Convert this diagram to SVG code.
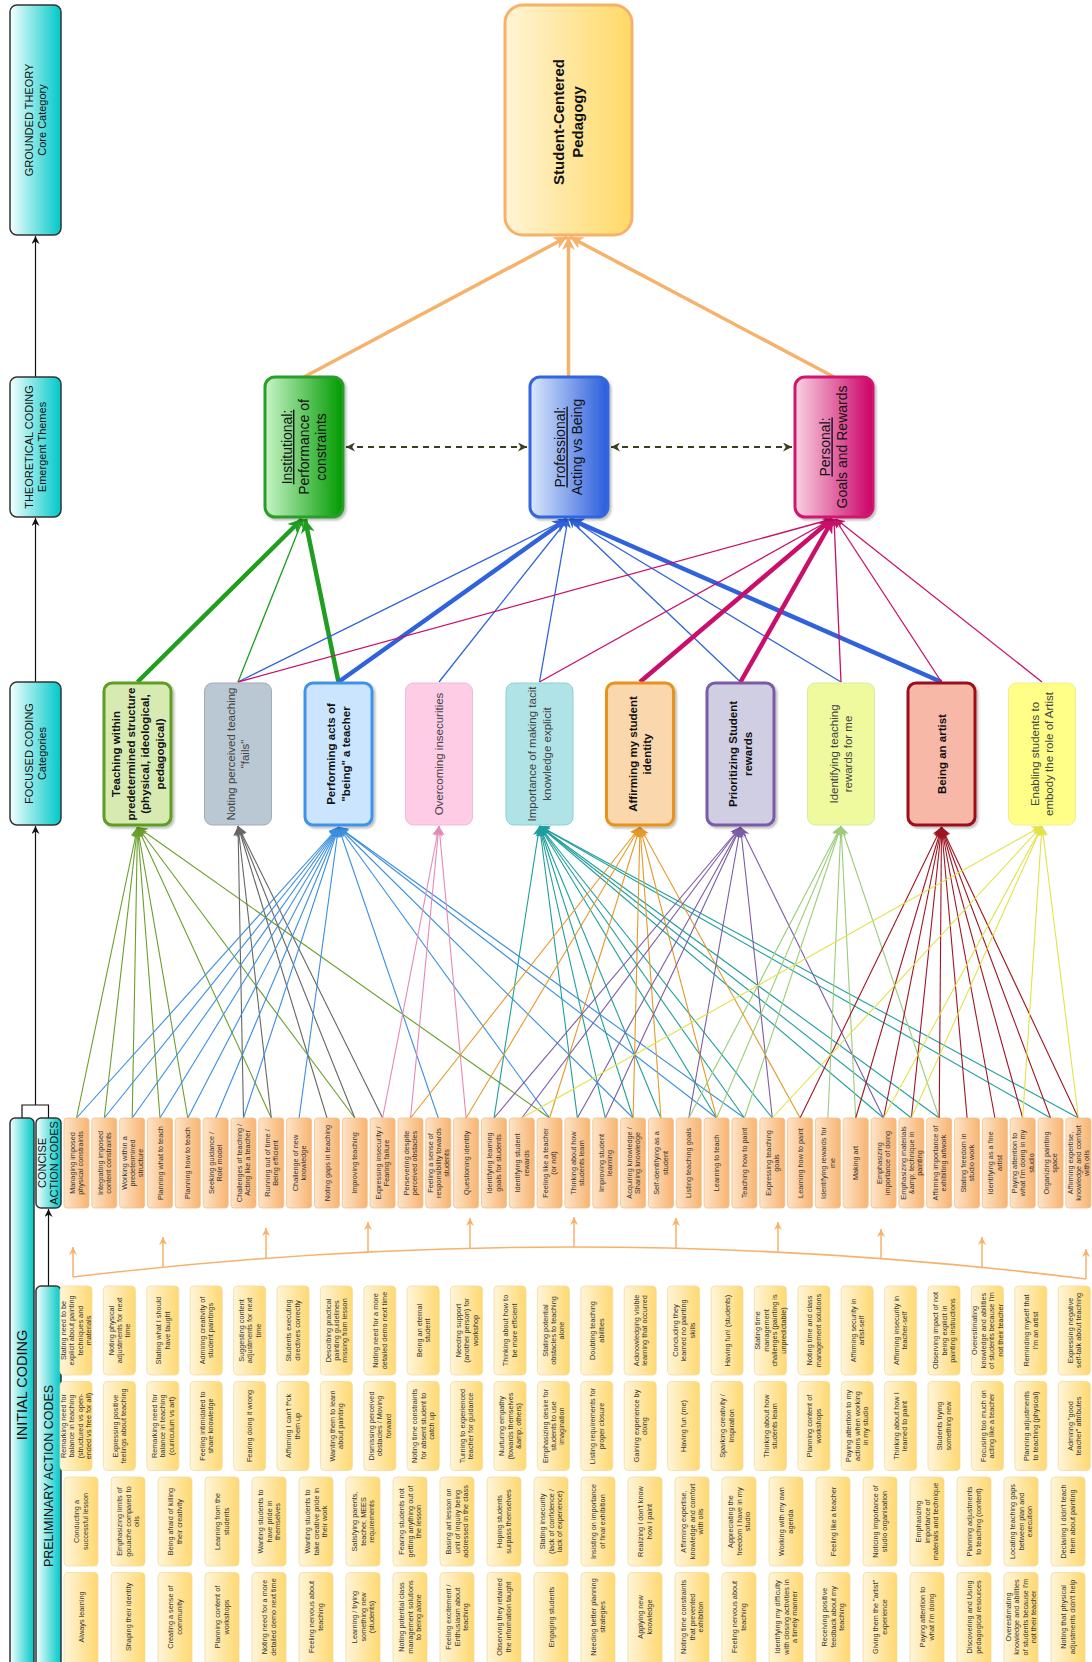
<svg xmlns="http://www.w3.org/2000/svg" width="1092" height="1662" viewBox="0 0 1092 1662">
<defs>
<linearGradient id="gCy" x1="0" y1="0" x2="1" y2="0"><stop offset="0" stop-color="#f4ffff"/><stop offset="1" stop-color="#00c8c8"/></linearGradient>
<linearGradient id="gSC" x1="0" y1="0" x2="1" y2="0"><stop offset="0" stop-color="#fff4d6"/><stop offset="1" stop-color="#ffd966"/></linearGradient>
<linearGradient id="gIn" x1="0" y1="0" x2="1" y2="0"><stop offset="0" stop-color="#c8f5c8"/><stop offset="1" stop-color="#009a00"/></linearGradient>
<linearGradient id="gPr" x1="0" y1="0" x2="1" y2="0"><stop offset="0" stop-color="#dce9fc"/><stop offset="1" stop-color="#2a5cdc"/></linearGradient>
<linearGradient id="gPe" x1="0" y1="0" x2="1" y2="0"><stop offset="0" stop-color="#f9d2e3"/><stop offset="1" stop-color="#cc0066"/></linearGradient>
<linearGradient id="gCon" x1="0" y1="0" x2="1" y2="0"><stop offset="0" stop-color="#fde4c8"/><stop offset="1" stop-color="#f8b471"/></linearGradient>
<linearGradient id="gPre" x1="0" y1="0" x2="1" y2="0"><stop offset="0" stop-color="#fff5da"/><stop offset="1" stop-color="#ffd870"/></linearGradient>
<filter id="sh" x="-10%" y="-10%" width="130%" height="130%"><feDropShadow dx="2" dy="2" stdDeviation="1.2" flood-color="#000" flood-opacity="0.25"/></filter>
<marker id="a0" viewBox="0 0 10 10" refX="10" refY="5" markerWidth="10" markerHeight="10" markerUnits="userSpaceOnUse" orient="auto"><path d="M0,0L10,5L0,10L3,5z" fill="#6a9f2c"/></marker>
<marker id="a1" viewBox="0 0 10 10" refX="10" refY="5" markerWidth="10" markerHeight="10" markerUnits="userSpaceOnUse" orient="auto"><path d="M0,0L10,5L0,10L3,5z" fill="#666666"/></marker>
<marker id="a2" viewBox="0 0 10 10" refX="10" refY="5" markerWidth="10" markerHeight="10" markerUnits="userSpaceOnUse" orient="auto"><path d="M0,0L10,5L0,10L3,5z" fill="#3b8ee0"/></marker>
<marker id="a3" viewBox="0 0 10 10" refX="10" refY="5" markerWidth="10" markerHeight="10" markerUnits="userSpaceOnUse" orient="auto"><path d="M0,0L10,5L0,10L3,5z" fill="#e589b8"/></marker>
<marker id="a4" viewBox="0 0 10 10" refX="10" refY="5" markerWidth="10" markerHeight="10" markerUnits="userSpaceOnUse" orient="auto"><path d="M0,0L10,5L0,10L3,5z" fill="#1f9e9e"/></marker>
<marker id="a5" viewBox="0 0 10 10" refX="10" refY="5" markerWidth="10" markerHeight="10" markerUnits="userSpaceOnUse" orient="auto"><path d="M0,0L10,5L0,10L3,5z" fill="#e39a2b"/></marker>
<marker id="a6" viewBox="0 0 10 10" refX="10" refY="5" markerWidth="10" markerHeight="10" markerUnits="userSpaceOnUse" orient="auto"><path d="M0,0L10,5L0,10L3,5z" fill="#7b5ba6"/></marker>
<marker id="a7" viewBox="0 0 10 10" refX="10" refY="5" markerWidth="10" markerHeight="10" markerUnits="userSpaceOnUse" orient="auto"><path d="M0,0L10,5L0,10L3,5z" fill="#9ccc7a"/></marker>
<marker id="a8" viewBox="0 0 10 10" refX="10" refY="5" markerWidth="10" markerHeight="10" markerUnits="userSpaceOnUse" orient="auto"><path d="M0,0L10,5L0,10L3,5z" fill="#9e1624"/></marker>
<marker id="a9" viewBox="0 0 10 10" refX="10" refY="5" markerWidth="10" markerHeight="10" markerUnits="userSpaceOnUse" orient="auto"><path d="M0,0L10,5L0,10L3,5z" fill="#e2e24a"/></marker>
<marker id="aG" viewBox="0 0 10 10" refX="10" refY="5" markerWidth="14" markerHeight="14" markerUnits="userSpaceOnUse" orient="auto"><path d="M0,0L10,5L0,10L3,5z" fill="#1f9e1f"/></marker>
<marker id="ag" viewBox="0 0 10 10" refX="10" refY="5" markerWidth="9" markerHeight="9" markerUnits="userSpaceOnUse" orient="auto"><path d="M0,0L10,5L0,10L3,5z" fill="#1f9e1f"/></marker>
<marker id="aB" viewBox="0 0 10 10" refX="10" refY="5" markerWidth="14" markerHeight="14" markerUnits="userSpaceOnUse" orient="auto"><path d="M0,0L10,5L0,10L3,5z" fill="#2f62dc"/></marker>
<marker id="ab" viewBox="0 0 10 10" refX="10" refY="5" markerWidth="9" markerHeight="9" markerUnits="userSpaceOnUse" orient="auto"><path d="M0,0L10,5L0,10L3,5z" fill="#2f62dc"/></marker>
<marker id="aP" viewBox="0 0 10 10" refX="10" refY="5" markerWidth="14" markerHeight="14" markerUnits="userSpaceOnUse" orient="auto"><path d="M0,0L10,5L0,10L3,5z" fill="#c8106a"/></marker>
<marker id="ap" viewBox="0 0 10 10" refX="10" refY="5" markerWidth="9" markerHeight="9" markerUnits="userSpaceOnUse" orient="auto"><path d="M0,0L10,5L0,10L3,5z" fill="#c8106a"/></marker>
<marker id="aO" viewBox="0 0 10 10" refX="10" refY="5" markerWidth="13" markerHeight="13" markerUnits="userSpaceOnUse" orient="auto"><path d="M0,0L10,5L0,10L3,5z" fill="#f6b26b"/></marker>
<marker id="ao" viewBox="0 0 10 10" refX="10" refY="5" markerWidth="8" markerHeight="8" markerUnits="userSpaceOnUse" orient="auto"><path d="M0,0L10,5L0,10L3,5z" fill="#f6b26b"/></marker>
<marker id="ak" viewBox="0 0 10 10" refX="10" refY="5" markerWidth="8" markerHeight="8" markerUnits="userSpaceOnUse" orient="auto"><path d="M0,0L10,5L0,10L3,5z" fill="#111"/></marker>
<marker id="ad" viewBox="0 0 10 10" refX="10" refY="5" markerWidth="9" markerHeight="9" markerUnits="userSpaceOnUse" orient="auto-start-reverse"><path d="M0,0L10,5L0,10L3,5z" fill="#3d3d1d"/></marker>
</defs>
<style>
text{font-family:"Liberation Sans",Arial,sans-serif}
.lbl{font-size:11px;fill:#111;text-anchor:middle}
.ct,.pt{font-size:7.3px;fill:#333;text-anchor:middle}
.cc{fill:url(#gCon);stroke:#f0c08e;stroke-width:0.8}
.pc{fill:url(#gPre);stroke:#f1dc9e;stroke-width:0.8}
.fb{font-size:11.5px;font-weight:bold;fill:#111;text-anchor:middle}
.fn{font-size:11.5px;fill:#444;text-anchor:middle}
.th{font-size:14px;fill:#111;text-anchor:middle}
.lc{stroke:#111;stroke-width:1.2;fill:none}
.cn line{stroke-width:1.1}
.k0{stroke:#6a9f2c;marker-end:url(#a0)}
.k1{stroke:#666666;marker-end:url(#a1)}
.k2{stroke:#3b8ee0;marker-end:url(#a2)}
.k3{stroke:#e589b8;marker-end:url(#a3)}
.k4{stroke:#1f9e9e;marker-end:url(#a4)}
.k5{stroke:#e39a2b;marker-end:url(#a5)}
.k6{stroke:#7b5ba6;marker-end:url(#a6)}
.k7{stroke:#9ccc7a;marker-end:url(#a7)}
.k8{stroke:#9e1624;marker-end:url(#a8)}
.k9{stroke:#e2e24a;marker-end:url(#a9)}
.tG{stroke:#1f9e1f;stroke-width:4.5;marker-end:url(#aG)}
.tg{stroke:#1f9e1f;stroke-width:1.3;marker-end:url(#ag)}
.tB{stroke:#2f62dc;stroke-width:4.5;marker-end:url(#aB)}
.tb{stroke:#2f62dc;stroke-width:1.3;marker-end:url(#ab)}
.tP{stroke:#c8106a;stroke-width:4.5;marker-end:url(#aP)}
.tp{stroke:#c8106a;stroke-width:1.3;marker-end:url(#ap)}
.to{stroke:#f6b26b;stroke-width:3.5;marker-end:url(#aO)}
.ta{stroke:#f6b26b;stroke-width:1.5;marker-end:url(#ao)}
.dsh{stroke:#3d3d1d;stroke-width:1.8;stroke-dasharray:6 5;marker-start:url(#ad);marker-end:url(#ad)}
</style>
<rect width="1092" height="1662" fill="#ffffff"/>

<g id="connectors">
<g id="left-flow">
<line class="lc" x1="35.5" y1="377" x2="35.5" y2="236" marker-end="url(#ak)"/>
<line class="lc" x1="35.5" y1="682" x2="35.5" y2="518" marker-end="url(#ak)"/>
<line class="lc" x1="35.5" y1="1105" x2="35.5" y2="826" marker-end="url(#ak)"/>
<path class="lc" d="M22,1118V1105H48.5V1118"/>
<line class="lc" x1="48.5" y1="1286" x2="48.5" y2="1209" marker-end="url(#ak)"/>
</g>
<g id="sc-links">
<line class="to" x1="304" y1="377" x2="567" y2="237"/>
<line class="to" x1="568.5" y1="377" x2="568.5" y2="237"/>
<line class="to" x1="834" y1="377" x2="570" y2="237"/>
</g>
<g id="theme-links">
<line class="dsh" x1="346" y1="447" x2="527" y2="447"/>
<line class="dsh" x1="611" y1="447" x2="792" y2="447"/>
</g>
<g id="cat-theme">
<line class="tG" x1="137.5" y1="682" x2="302" y2="519"/>
<line class="tg" x1="238" y1="682" x2="303" y2="519"/>
<line class="tG" x1="338.5" y1="682" x2="305" y2="519"/>
<line class="tb" x1="238" y1="682" x2="567" y2="519"/>
<line class="tB" x1="338.5" y1="682" x2="567" y2="519"/>
<line class="tb" x1="439" y1="682" x2="568" y2="519"/>
<line class="tb" x1="539.5" y1="682" x2="568" y2="519"/>
<line class="tb" x1="740.5" y1="682" x2="569" y2="519"/>
<line class="tb" x1="841" y1="682" x2="570" y2="519"/>
<line class="tB" x1="941.5" y1="682" x2="570" y2="519"/>
<line class="tp" x1="238" y1="682" x2="832" y2="519"/>
<line class="tp" x1="539.5" y1="682" x2="832" y2="519"/>
<line class="tP" x1="640" y1="682" x2="832" y2="519"/>
<line class="tP" x1="740.5" y1="682" x2="833" y2="519"/>
<line class="tp" x1="841" y1="682" x2="834" y2="519"/>
<line class="tp" x1="941.5" y1="682" x2="835" y2="519"/>
<line class="tp" x1="1042" y1="682" x2="836" y2="519"/>
</g>
<g id="code-cat" class="cn">
<line class="k0" x1="76.5" y1="1118" x2="137.5" y2="827"/>
<line class="k0" x1="104.3" y1="1118" x2="137.5" y2="827"/>
<line class="k0" x1="132.2" y1="1118" x2="137.5" y2="827"/>
<line class="k0" x1="160" y1="1118" x2="137.5" y2="827"/>
<line class="k0" x1="187.8" y1="1118" x2="137.5" y2="827"/>
<line class="k0" x1="271.3" y1="1118" x2="137.5" y2="827"/>
<line class="k0" x1="354.8" y1="1118" x2="137.5" y2="827"/>
<line class="k0" x1="549.6" y1="1118" x2="137.5" y2="827"/>
<line class="k1" x1="243.5" y1="1118" x2="238" y2="826"/>
<line class="k1" x1="271.3" y1="1118" x2="238" y2="826"/>
<line class="k1" x1="327" y1="1118" x2="238" y2="826"/>
<line class="k1" x1="354.8" y1="1118" x2="238" y2="826"/>
<line class="k1" x1="382.6" y1="1118" x2="238" y2="826"/>
<line class="k2" x1="76.5" y1="1118" x2="338.5" y2="827"/>
<line class="k2" x1="104.3" y1="1118" x2="338.5" y2="827"/>
<line class="k2" x1="132.2" y1="1118" x2="338.5" y2="827"/>
<line class="k2" x1="160" y1="1118" x2="338.5" y2="827"/>
<line class="k2" x1="187.8" y1="1118" x2="338.5" y2="827"/>
<line class="k2" x1="215.7" y1="1118" x2="338.5" y2="827"/>
<line class="k2" x1="243.5" y1="1118" x2="338.5" y2="827"/>
<line class="k2" x1="299.1" y1="1118" x2="338.5" y2="827"/>
<line class="k2" x1="438.3" y1="1118" x2="338.5" y2="827"/>
<line class="k2" x1="549.6" y1="1118" x2="338.5" y2="827"/>
<line class="k2" x1="633.1" y1="1118" x2="338.5" y2="827"/>
<line class="k2" x1="716.6" y1="1118" x2="338.5" y2="827"/>
<line class="k2" x1="744.4" y1="1118" x2="338.5" y2="827"/>
<line class="k3" x1="382.6" y1="1118" x2="439" y2="826"/>
<line class="k3" x1="410.5" y1="1118" x2="439" y2="826"/>
<line class="k3" x1="466.1" y1="1118" x2="439" y2="826"/>
<line class="k4" x1="494" y1="1118" x2="539.5" y2="826"/>
<line class="k4" x1="577.4" y1="1118" x2="539.5" y2="826"/>
<line class="k4" x1="605.3" y1="1118" x2="539.5" y2="826"/>
<line class="k4" x1="633.1" y1="1118" x2="539.5" y2="826"/>
<line class="k4" x1="660.9" y1="1118" x2="539.5" y2="826"/>
<line class="k4" x1="716.6" y1="1118" x2="539.5" y2="826"/>
<line class="k4" x1="744.4" y1="1118" x2="539.5" y2="826"/>
<line class="k4" x1="772.3" y1="1118" x2="539.5" y2="826"/>
<line class="k4" x1="883.6" y1="1118" x2="539.5" y2="826"/>
<line class="k4" x1="911.4" y1="1118" x2="539.5" y2="826"/>
<line class="k4" x1="939.2" y1="1118" x2="539.5" y2="826"/>
<line class="k4" x1="1050.6" y1="1118" x2="539.5" y2="826"/>
<line class="k4" x1="1078.4" y1="1118" x2="539.5" y2="826"/>
<line class="k5" x1="410.5" y1="1118" x2="640" y2="827"/>
<line class="k5" x1="466.1" y1="1118" x2="640" y2="827"/>
<line class="k5" x1="549.6" y1="1118" x2="640" y2="827"/>
<line class="k5" x1="633.1" y1="1118" x2="640" y2="827"/>
<line class="k5" x1="660.9" y1="1118" x2="640" y2="827"/>
<line class="k5" x1="716.6" y1="1118" x2="640" y2="827"/>
<line class="k5" x1="800.1" y1="1118" x2="640" y2="827"/>
<line class="k6" x1="494" y1="1118" x2="740.5" y2="827"/>
<line class="k6" x1="521.8" y1="1118" x2="740.5" y2="827"/>
<line class="k6" x1="577.4" y1="1118" x2="740.5" y2="827"/>
<line class="k6" x1="605.3" y1="1118" x2="740.5" y2="827"/>
<line class="k6" x1="688.8" y1="1118" x2="740.5" y2="827"/>
<line class="k6" x1="772.3" y1="1118" x2="740.5" y2="827"/>
<line class="k6" x1="883.6" y1="1118" x2="740.5" y2="827"/>
<line class="k7" x1="688.8" y1="1118" x2="841" y2="826"/>
<line class="k7" x1="716.6" y1="1118" x2="841" y2="826"/>
<line class="k7" x1="744.4" y1="1118" x2="841" y2="826"/>
<line class="k7" x1="827.9" y1="1118" x2="841" y2="826"/>
<line class="k7" x1="855.7" y1="1118" x2="841" y2="826"/>
<line class="k7" x1="939.2" y1="1118" x2="841" y2="826"/>
<line class="k8" x1="800.1" y1="1118" x2="941.5" y2="827"/>
<line class="k8" x1="855.7" y1="1118" x2="941.5" y2="827"/>
<line class="k8" x1="883.6" y1="1118" x2="941.5" y2="827"/>
<line class="k8" x1="911.4" y1="1118" x2="941.5" y2="827"/>
<line class="k8" x1="939.2" y1="1118" x2="941.5" y2="827"/>
<line class="k8" x1="967.1" y1="1118" x2="941.5" y2="827"/>
<line class="k8" x1="994.9" y1="1118" x2="941.5" y2="827"/>
<line class="k8" x1="1022.7" y1="1118" x2="941.5" y2="827"/>
<line class="k8" x1="1050.6" y1="1118" x2="941.5" y2="827"/>
<line class="k8" x1="1078.4" y1="1118" x2="941.5" y2="827"/>
<line class="k9" x1="521.8" y1="1118" x2="1042" y2="826"/>
<line class="k9" x1="772.3" y1="1118" x2="1042" y2="826"/>
<line class="k9" x1="883.6" y1="1118" x2="1042" y2="826"/>
<line class="k9" x1="911.4" y1="1118" x2="1042" y2="826"/>
<line class="k9" x1="1022.7" y1="1118" x2="1042" y2="826"/>
<line class="k9" x1="1078.4" y1="1118" x2="1042" y2="826"/>
</g>
<g id="prelim-to-concise">
<path d="M73,1277Q580,1216 1086,1279" fill="none" stroke="#f6b26b" stroke-width="1.5"/>
<line class="ta" x1="73" y1="1277" x2="73" y2="1247"/>
<line class="ta" x1="163" y1="1267" x2="163" y2="1237"/>
<line class="ta" x1="266" y1="1258" x2="266" y2="1228"/>
<line class="ta" x1="368" y1="1252" x2="368" y2="1222"/>
<line class="ta" x1="470" y1="1248" x2="470" y2="1218"/>
<line class="ta" x1="574" y1="1247" x2="574" y2="1217"/>
<line class="ta" x1="676" y1="1248" x2="676" y2="1218"/>
<line class="ta" x1="778" y1="1252" x2="778" y2="1222"/>
<line class="ta" x1="881" y1="1259" x2="881" y2="1229"/>
<line class="ta" x1="982" y1="1267" x2="982" y2="1237"/>
<line class="ta" x1="1086" y1="1279" x2="1086" y2="1249"/>
</g>
</g>

<g id="grounded-theory"><rect x="10" y="5" width="51" height="230" rx="7" fill="url(#gCy)" stroke="#333" stroke-width="1.5"/><text class="lbl" transform="translate(35.5,120) rotate(-90)"><tspan x="0" dy="-2.7">GROUNDED THEORY</tspan><tspan x="0" dy="13">Core Category</tspan></text></g>
<g id="theoretical-coding"><rect x="10" y="377" width="51" height="140" rx="7" fill="url(#gCy)" stroke="#333" stroke-width="1.5"/><text class="lbl" transform="translate(35.5,447) rotate(-90)"><tspan x="0" dy="-2.7">THEORETICAL CODING</tspan><tspan x="0" dy="13">Emergent Themes</tspan></text></g>
<g id="focused-coding"><rect x="10" y="682" width="51" height="143" rx="7" fill="url(#gCy)" stroke="#333" stroke-width="1.5"/><text class="lbl" transform="translate(35.5,753.5) rotate(-90)"><tspan x="0" dy="-2.7">FOCUSED CODING</tspan><tspan x="0" dy="13">Categories</tspan></text></g>
<g id="initial-coding"><rect x="10" y="1118" width="24" height="560" rx="5" fill="url(#gCy)" stroke="#333" stroke-width="1.5"/><text transform="translate(22,1385) rotate(-90)" style="font-size:14.5px;fill:#111;text-anchor:middle" dy="5">INITIAL CODING</text></g>
<g id="concise-label"><rect x="36" y="1118" width="25" height="90" rx="5" fill="url(#gCy)" stroke="#333" stroke-width="1.5"/><text class="lbl" transform="translate(48.5,1163) rotate(-90)"><tspan x="0" dy="-2.4">CONCISE</tspan><tspan x="0" dy="11.5">ACTION CODES</tspan></text></g>
<g id="preliminary-label"><rect x="36" y="1286" width="25" height="392" rx="5" fill="url(#gCy)" stroke="#333" stroke-width="1.5"/><text transform="translate(48.5,1476) rotate(-90)" style="font-size:12.5px;fill:#111;text-anchor:middle" dy="4.4">PRELIMINARY ACTION CODES</text></g>

<g id="student-centered"><rect x="505" y="5" width="127" height="230" rx="18" fill="url(#gSC)" stroke="#f6b26b" stroke-width="3"/><text transform="translate(568.5,122) rotate(-90)" style="font-size:15px;font-weight:bold;fill:#111;text-anchor:middle"><tspan x="0" dy="-4.3">Student-Centered</tspan><tspan x="0" dy="19">Pedagogy</tspan></text></g>

<g id="institutional"><rect x="265" y="377" width="78" height="140" rx="10" fill="url(#gIn)" stroke="#2a9e2a" stroke-width="3" filter="url(#sh)"/><text class="th" transform="translate(304,447) rotate(-90)"><tspan x="0" dy="-12" text-decoration="underline">Institutional:</tspan><tspan x="0" dy="17">Performance of</tspan><tspan x="0" dy="17">constraints</tspan></text></g>
<g id="professional"><rect x="530" y="377" width="78" height="140" rx="10" fill="url(#gPr)" stroke="#3366dd" stroke-width="3" filter="url(#sh)"/><text class="th" transform="translate(569,447) rotate(-90)"><tspan x="0" dy="-3.6" text-decoration="underline">Professional:</tspan><tspan x="0" dy="17">Acting vs Being</tspan></text></g>
<g id="personal"><rect x="795" y="377" width="78" height="140" rx="10" fill="url(#gPe)" stroke="#d0186e" stroke-width="3" filter="url(#sh)"/><text class="th" transform="translate(834,447) rotate(-90)"><tspan x="0" dy="-3.6" text-decoration="underline">Personal:</tspan><tspan x="0" dy="17">Goals and Rewards</tspan></text></g>

<g id="cat0"><rect x="104" y="683" width="67" height="142" rx="8" fill="#d6eab2" stroke="#5e9e22" stroke-width="3" filter="url(#sh)"/><text class="fb" transform="translate(137.5,754) rotate(-90)"><tspan x="0" dy="-17.5">Teaching within</tspan><tspan x="0" dy="14.5">predetermined structure</tspan><tspan x="0" dy="14.5">(physical, ideological,</tspan><tspan x="0" dy="14.5">pedagogical)</tspan></text></g>
<g id="cat1"><rect x="204.5" y="683" width="67" height="142" rx="8" fill="#bac8d3" stroke="#a3abb5" stroke-width="1"/><text class="fn" transform="translate(238,754) rotate(-90)"><tspan x="0" dy="-3.2">Noting perceived teaching</tspan><tspan x="0" dy="14.5">"fails"</tspan></text></g>
<g id="cat2"><rect x="305" y="683" width="67" height="142" rx="8" fill="#cce5ff" stroke="#3f94e8" stroke-width="3" filter="url(#sh)"/><text class="fb" transform="translate(338.5,754) rotate(-90)"><tspan x="0" dy="-3.2">Performing acts of</tspan><tspan x="0" dy="14.5">"being" a teacher</tspan></text></g>
<g id="cat3"><rect x="405.5" y="683" width="67" height="142" rx="8" fill="#ffcce6" stroke="#f2b8d8" stroke-width="1"/><text class="fn" transform="translate(439,754) rotate(-90)"><tspan x="0" dy="4">Overcoming insecurities</tspan></text></g>
<g id="cat4"><rect x="506" y="683" width="67" height="142" rx="8" fill="#b0e3e6" stroke="#8ed0d4" stroke-width="1"/><text class="fn" transform="translate(539.5,754) rotate(-90)"><tspan x="0" dy="-3.2">Importance of making tacit</tspan><tspan x="0" dy="14.5">knowledge explicit</tspan></text></g>
<g id="cat5"><rect x="606.5" y="683" width="67" height="142" rx="8" fill="#fad7ac" stroke="#e8921a" stroke-width="3" filter="url(#sh)"/><text class="fb" transform="translate(640,754) rotate(-90)"><tspan x="0" dy="-3.2">Affirming my student</tspan><tspan x="0" dy="14.5">identity</tspan></text></g>
<g id="cat6"><rect x="707" y="683" width="67" height="142" rx="8" fill="#d0cee2" stroke="#7a5ba6" stroke-width="3" filter="url(#sh)"/><text class="fb" transform="translate(740.5,754) rotate(-90)"><tspan x="0" dy="-3.2">Prioritizing Student</tspan><tspan x="0" dy="14.5">rewards</tspan></text></g>
<g id="cat7"><rect x="807.5" y="683" width="67" height="142" rx="8" fill="#effa9e" stroke="#d4eca0" stroke-width="1"/><text class="fn" transform="translate(841,754) rotate(-90)"><tspan x="0" dy="-3.2">Identifying teaching</tspan><tspan x="0" dy="14.5">rewards for me</tspan></text></g>
<g id="cat8"><rect x="908" y="683" width="67" height="142" rx="8" fill="#f8b8a8" stroke="#9e0f1a" stroke-width="3" filter="url(#sh)"/><text class="fb" transform="translate(941.5,754) rotate(-90)"><tspan x="0" dy="4">Being an artist</tspan></text></g>
<g id="cat9"><rect x="1008.5" y="683" width="67" height="142" rx="8" fill="#ffff88" stroke="#eeee9a" stroke-width="1"/><text class="fn" transform="translate(1042,754) rotate(-90)"><tspan x="0" dy="-3.2">Enabling students to</tspan><tspan x="0" dy="14.5">embody the role of Artist</tspan></text></g>

<g id="concise">
<g id="c0"><rect class="cc" x="64" y="1118" width="25" height="90" rx="3"/><text class="ct" transform="translate(76.5,1163) rotate(-90)"><tspan x="0" dy="-1.6">Managing imposed</tspan><tspan x="0" dy="8.3">physical constraints</tspan></text></g>
<g id="c1"><rect class="cc" x="91.8" y="1118" width="25" height="90" rx="3"/><text class="ct" transform="translate(104.3,1163) rotate(-90)"><tspan x="0" dy="-1.6">Integrating imposed</tspan><tspan x="0" dy="8.3">content constraints</tspan></text></g>
<g id="c2"><rect class="cc" x="119.7" y="1118" width="25" height="90" rx="3"/><text class="ct" transform="translate(132.2,1163) rotate(-90)"><tspan x="0" dy="-5.7">Working within a</tspan><tspan x="0" dy="8.3">predetermined</tspan><tspan x="0" dy="8.3">structure</tspan></text></g>
<g id="c3"><rect class="cc" x="147.5" y="1118" width="25" height="90" rx="3"/><text class="ct" transform="translate(160,1163) rotate(-90)"><tspan x="0" dy="2.6">Planning what to teach</tspan></text></g>
<g id="c4"><rect class="cc" x="175.3" y="1118" width="25" height="90" rx="3"/><text class="ct" transform="translate(187.8,1163) rotate(-90)"><tspan x="0" dy="2.6">Planning how to teach</tspan></text></g>
<g id="c5"><rect class="cc" x="203.2" y="1118" width="25" height="90" rx="3"/><text class="ct" transform="translate(215.7,1163) rotate(-90)"><tspan x="0" dy="-1.6">Seeking guidance /</tspan><tspan x="0" dy="8.3">Role model</tspan></text></g>
<g id="c6"><rect class="cc" x="231" y="1118" width="25" height="90" rx="3"/><text class="ct" transform="translate(243.5,1163) rotate(-90)"><tspan x="0" dy="-1.6">Challenges of teaching /</tspan><tspan x="0" dy="8.3">Acting like a teacher</tspan></text></g>
<g id="c7"><rect class="cc" x="258.8" y="1118" width="25" height="90" rx="3"/><text class="ct" transform="translate(271.3,1163) rotate(-90)"><tspan x="0" dy="-1.6">Running out of time /</tspan><tspan x="0" dy="8.3">Being efficient</tspan></text></g>
<g id="c8"><rect class="cc" x="286.6" y="1118" width="25" height="90" rx="3"/><text class="ct" transform="translate(299.1,1163) rotate(-90)"><tspan x="0" dy="-1.6">Challenge of new</tspan><tspan x="0" dy="8.3">knowledge</tspan></text></g>
<g id="c9"><rect class="cc" x="314.5" y="1118" width="25" height="90" rx="3"/><text class="ct" transform="translate(327,1163) rotate(-90)"><tspan x="0" dy="2.6">Noting gaps in teaching</tspan></text></g>
<g id="c10"><rect class="cc" x="342.3" y="1118" width="25" height="90" rx="3"/><text class="ct" transform="translate(354.8,1163) rotate(-90)"><tspan x="0" dy="2.6">Improving teaching</tspan></text></g>
<g id="c11"><rect class="cc" x="370.1" y="1118" width="25" height="90" rx="3"/><text class="ct" transform="translate(382.6,1163) rotate(-90)"><tspan x="0" dy="-1.6">Expressing insecurity /</tspan><tspan x="0" dy="8.3">Fearing failure</tspan></text></g>
<g id="c12"><rect class="cc" x="398" y="1118" width="25" height="90" rx="3"/><text class="ct" transform="translate(410.5,1163) rotate(-90)"><tspan x="0" dy="-1.6">Persevering despite</tspan><tspan x="0" dy="8.3">perceived obstacles</tspan></text></g>
<g id="c13"><rect class="cc" x="425.8" y="1118" width="25" height="90" rx="3"/><text class="ct" transform="translate(438.3,1163) rotate(-90)"><tspan x="0" dy="-5.7">Feeling a sense of</tspan><tspan x="0" dy="8.3">responsibility towards</tspan><tspan x="0" dy="8.3">students</tspan></text></g>
<g id="c14"><rect class="cc" x="453.6" y="1118" width="25" height="90" rx="3"/><text class="ct" transform="translate(466.1,1163) rotate(-90)"><tspan x="0" dy="2.6">Questioning identity</tspan></text></g>
<g id="c15"><rect class="cc" x="481.5" y="1118" width="25" height="90" rx="3"/><text class="ct" transform="translate(494,1163) rotate(-90)"><tspan x="0" dy="-1.6">Identifying learning</tspan><tspan x="0" dy="8.3">goals for students</tspan></text></g>
<g id="c16"><rect class="cc" x="509.3" y="1118" width="25" height="90" rx="3"/><text class="ct" transform="translate(521.8,1163) rotate(-90)"><tspan x="0" dy="-1.6">Identifying student</tspan><tspan x="0" dy="8.3">rewards</tspan></text></g>
<g id="c17"><rect class="cc" x="537.1" y="1118" width="25" height="90" rx="3"/><text class="ct" transform="translate(549.6,1163) rotate(-90)"><tspan x="0" dy="-1.6">Feeling like a teacher</tspan><tspan x="0" dy="8.3">(or not)</tspan></text></g>
<g id="c18"><rect class="cc" x="564.9" y="1118" width="25" height="90" rx="3"/><text class="ct" transform="translate(577.4,1163) rotate(-90)"><tspan x="0" dy="-1.6">Thinking about how</tspan><tspan x="0" dy="8.3">students learn</tspan></text></g>
<g id="c19"><rect class="cc" x="592.8" y="1118" width="25" height="90" rx="3"/><text class="ct" transform="translate(605.3,1163) rotate(-90)"><tspan x="0" dy="-1.6">Improving student</tspan><tspan x="0" dy="8.3">learning</tspan></text></g>
<g id="c20"><rect class="cc" x="620.6" y="1118" width="25" height="90" rx="3"/><text class="ct" transform="translate(633.1,1163) rotate(-90)"><tspan x="0" dy="-1.6">Acquiring knowledge /</tspan><tspan x="0" dy="8.3">Sharing knowledge</tspan></text></g>
<g id="c21"><rect class="cc" x="648.4" y="1118" width="25" height="90" rx="3"/><text class="ct" transform="translate(660.9,1163) rotate(-90)"><tspan x="0" dy="-1.6">Self-identifying as a</tspan><tspan x="0" dy="8.3">student</tspan></text></g>
<g id="c22"><rect class="cc" x="676.3" y="1118" width="25" height="90" rx="3"/><text class="ct" transform="translate(688.8,1163) rotate(-90)"><tspan x="0" dy="2.6">Listing teaching goals</tspan></text></g>
<g id="c23"><rect class="cc" x="704.1" y="1118" width="25" height="90" rx="3"/><text class="ct" transform="translate(716.6,1163) rotate(-90)"><tspan x="0" dy="2.6">Learning to teach</tspan></text></g>
<g id="c24"><rect class="cc" x="731.9" y="1118" width="25" height="90" rx="3"/><text class="ct" transform="translate(744.4,1163) rotate(-90)"><tspan x="0" dy="2.6">Teaching how to paint</tspan></text></g>
<g id="c25"><rect class="cc" x="759.8" y="1118" width="25" height="90" rx="3"/><text class="ct" transform="translate(772.3,1163) rotate(-90)"><tspan x="0" dy="-1.6">Expressing teaching</tspan><tspan x="0" dy="8.3">goals</tspan></text></g>
<g id="c26"><rect class="cc" x="787.6" y="1118" width="25" height="90" rx="3"/><text class="ct" transform="translate(800.1,1163) rotate(-90)"><tspan x="0" dy="2.6">Learning how to paint</tspan></text></g>
<g id="c27"><rect class="cc" x="815.4" y="1118" width="25" height="90" rx="3"/><text class="ct" transform="translate(827.9,1163) rotate(-90)"><tspan x="0" dy="-1.6">Identifying rewards for</tspan><tspan x="0" dy="8.3">me</tspan></text></g>
<g id="c28"><rect class="cc" x="843.2" y="1118" width="25" height="90" rx="3"/><text class="ct" transform="translate(855.7,1163) rotate(-90)"><tspan x="0" dy="2.6">Making art</tspan></text></g>
<g id="c29"><rect class="cc" x="871.1" y="1118" width="25" height="90" rx="3"/><text class="ct" transform="translate(883.6,1163) rotate(-90)"><tspan x="0" dy="-1.6">Emphasizing</tspan><tspan x="0" dy="8.3">importance of doing</tspan></text></g>
<g id="c30"><rect class="cc" x="898.9" y="1118" width="25" height="90" rx="3"/><text class="ct" transform="translate(911.4,1163) rotate(-90)"><tspan x="0" dy="-5.7">Emphasizing materials</tspan><tspan x="0" dy="8.3">&amp;amp; technique in</tspan><tspan x="0" dy="8.3">painting</tspan></text></g>
<g id="c31"><rect class="cc" x="926.7" y="1118" width="25" height="90" rx="3"/><text class="ct" transform="translate(939.2,1163) rotate(-90)"><tspan x="0" dy="-1.6">Affirming importance of</tspan><tspan x="0" dy="8.3">exhibiting artwork</tspan></text></g>
<g id="c32"><rect class="cc" x="954.6" y="1118" width="25" height="90" rx="3"/><text class="ct" transform="translate(967.1,1163) rotate(-90)"><tspan x="0" dy="-1.6">Stating freedom in</tspan><tspan x="0" dy="8.3">studio work</tspan></text></g>
<g id="c33"><rect class="cc" x="982.4" y="1118" width="25" height="90" rx="3"/><text class="ct" transform="translate(994.9,1163) rotate(-90)"><tspan x="0" dy="-1.6">Identifying as a fine</tspan><tspan x="0" dy="8.3">artist</tspan></text></g>
<g id="c34"><rect class="cc" x="1010.2" y="1118" width="25" height="90" rx="3"/><text class="ct" transform="translate(1022.7,1163) rotate(-90)"><tspan x="0" dy="-5.7">Paying attention to</tspan><tspan x="0" dy="8.3">what I'm doing in my</tspan><tspan x="0" dy="8.3">studio</tspan></text></g>
<g id="c35"><rect class="cc" x="1038.1" y="1118" width="25" height="90" rx="3"/><text class="ct" transform="translate(1050.6,1163) rotate(-90)"><tspan x="0" dy="-1.6">Organizing painting</tspan><tspan x="0" dy="8.3">space</tspan></text></g>
<g id="c36"><rect class="cc" x="1065.9" y="1118" width="25" height="90" rx="3"/><text class="ct" transform="translate(1078.4,1163) rotate(-90)"><tspan x="0" dy="-5.7">Affirming expertise,</tspan><tspan x="0" dy="8.3">knowledge and comfort</tspan><tspan x="0" dy="8.3">with oils</tspan></text></g>
</g>

<g id="preliminary">
<g id="p1-0"><rect class="pc" x="60" y="1286" width="32" height="89" rx="4"/><text class="pt" transform="translate(76,1330.5) rotate(-90)"><tspan x="0" dy="-10">Stating need to be</tspan><tspan x="0" dy="8.4">explicit about painting</tspan><tspan x="0" dy="8.4">techniques and</tspan><tspan x="0" dy="8.4">materials</tspan></text></g>
<g id="p1-1"><rect class="pc" x="103.4" y="1286" width="32" height="89" rx="4"/><text class="pt" transform="translate(119.4,1330.5) rotate(-90)"><tspan x="0" dy="-5.8">Noting physical</tspan><tspan x="0" dy="8.4">adjustments for next</tspan><tspan x="0" dy="8.4">time</tspan></text></g>
<g id="p1-2"><rect class="pc" x="146.8" y="1286" width="32" height="89" rx="4"/><text class="pt" transform="translate(162.8,1330.5) rotate(-90)"><tspan x="0" dy="-1.6">Stating what I should</tspan><tspan x="0" dy="8.4">have taught</tspan></text></g>
<g id="p1-3"><rect class="pc" x="190.2" y="1286" width="32" height="89" rx="4"/><text class="pt" transform="translate(206.2,1330.5) rotate(-90)"><tspan x="0" dy="-1.6">Admiring creativity of</tspan><tspan x="0" dy="8.4">student paintings</tspan></text></g>
<g id="p1-4"><rect class="pc" x="233.6" y="1286" width="32" height="89" rx="4"/><text class="pt" transform="translate(249.6,1330.5) rotate(-90)"><tspan x="0" dy="-5.8">Suggesting content</tspan><tspan x="0" dy="8.4">adjustments for next</tspan><tspan x="0" dy="8.4">time</tspan></text></g>
<g id="p1-5"><rect class="pc" x="277" y="1286" width="32" height="89" rx="4"/><text class="pt" transform="translate(293,1330.5) rotate(-90)"><tspan x="0" dy="-1.6">Students executing</tspan><tspan x="0" dy="8.4">directives correctly</tspan></text></g>
<g id="p1-6"><rect class="pc" x="320.4" y="1286" width="32" height="89" rx="4"/><text class="pt" transform="translate(336.4,1330.5) rotate(-90)"><tspan x="0" dy="-5.8">Describing practical</tspan><tspan x="0" dy="8.4">painting guidelines</tspan><tspan x="0" dy="8.4">missing from lesson</tspan></text></g>
<g id="p1-7"><rect class="pc" x="363.8" y="1286" width="32" height="89" rx="4"/><text class="pt" transform="translate(379.8,1330.5) rotate(-90)"><tspan x="0" dy="-1.6">Noting need for a more</tspan><tspan x="0" dy="8.4">detailed demo next time</tspan></text></g>
<g id="p1-8"><rect class="pc" x="407.2" y="1286" width="32" height="89" rx="4"/><text class="pt" transform="translate(423.2,1330.5) rotate(-90)"><tspan x="0" dy="-1.6">Being an eternal</tspan><tspan x="0" dy="8.4">student</tspan></text></g>
<g id="p1-9"><rect class="pc" x="450.6" y="1286" width="32" height="89" rx="4"/><text class="pt" transform="translate(466.6,1330.5) rotate(-90)"><tspan x="0" dy="-5.8">Needing support</tspan><tspan x="0" dy="8.4">(another person) for</tspan><tspan x="0" dy="8.4">workshop</tspan></text></g>
<g id="p1-10"><rect class="pc" x="494" y="1286" width="32" height="89" rx="4"/><text class="pt" transform="translate(510,1330.5) rotate(-90)"><tspan x="0" dy="-1.6">Thinking about how to</tspan><tspan x="0" dy="8.4">be more efficient</tspan></text></g>
<g id="p1-11"><rect class="pc" x="537.4" y="1286" width="32" height="89" rx="4"/><text class="pt" transform="translate(553.4,1330.5) rotate(-90)"><tspan x="0" dy="-5.8">Stating potential</tspan><tspan x="0" dy="8.4">obstacles to teaching</tspan><tspan x="0" dy="8.4">alone</tspan></text></g>
<g id="p1-12"><rect class="pc" x="580.8" y="1286" width="32" height="89" rx="4"/><text class="pt" transform="translate(596.8,1330.5) rotate(-90)"><tspan x="0" dy="-1.6">Doubting teaching</tspan><tspan x="0" dy="8.4">abilities</tspan></text></g>
<g id="p1-13"><rect class="pc" x="624.2" y="1286" width="32" height="89" rx="4"/><text class="pt" transform="translate(640.2,1330.5) rotate(-90)"><tspan x="0" dy="-1.6">Acknowledging visible</tspan><tspan x="0" dy="8.4">learning that occurred</tspan></text></g>
<g id="p1-14"><rect class="pc" x="667.6" y="1286" width="32" height="89" rx="4"/><text class="pt" transform="translate(683.6,1330.5) rotate(-90)"><tspan x="0" dy="-5.8">Concluding they</tspan><tspan x="0" dy="8.4">learned no painting</tspan><tspan x="0" dy="8.4">skills</tspan></text></g>
<g id="p1-15"><rect class="pc" x="711" y="1286" width="32" height="89" rx="4"/><text class="pt" transform="translate(727,1330.5) rotate(-90)"><tspan x="0" dy="2.6">Having fun! (students)</tspan></text></g>
<g id="p1-16"><rect class="pc" x="754.4" y="1286" width="32" height="89" rx="4"/><text class="pt" transform="translate(770.4,1330.5) rotate(-90)"><tspan x="0" dy="-10">Stating time</tspan><tspan x="0" dy="8.4">management</tspan><tspan x="0" dy="8.4">challenges (painting is</tspan><tspan x="0" dy="8.4">unpredictable)</tspan></text></g>
<g id="p1-17"><rect class="pc" x="797.8" y="1286" width="32" height="89" rx="4"/><text class="pt" transform="translate(813.8,1330.5) rotate(-90)"><tspan x="0" dy="-1.6">Noting time and class</tspan><tspan x="0" dy="8.4">management solutions</tspan></text></g>
<g id="p1-18"><rect class="pc" x="841.2" y="1286" width="32" height="89" rx="4"/><text class="pt" transform="translate(857.2,1330.5) rotate(-90)"><tspan x="0" dy="-1.6">Affirming security in</tspan><tspan x="0" dy="8.4">artist-self</tspan></text></g>
<g id="p1-19"><rect class="pc" x="884.6" y="1286" width="32" height="89" rx="4"/><text class="pt" transform="translate(900.6,1330.5) rotate(-90)"><tspan x="0" dy="-1.6">Affirming insecurity in</tspan><tspan x="0" dy="8.4">teacher-self</tspan></text></g>
<g id="p1-20"><rect class="pc" x="928" y="1286" width="32" height="89" rx="4"/><text class="pt" transform="translate(944,1330.5) rotate(-90)"><tspan x="0" dy="-5.8">Observing impact of not</tspan><tspan x="0" dy="8.4">being explicit in</tspan><tspan x="0" dy="8.4">painting instructions</tspan></text></g>
<g id="p1-21"><rect class="pc" x="971.4" y="1286" width="32" height="89" rx="4"/><text class="pt" transform="translate(987.4,1330.5) rotate(-90)"><tspan x="0" dy="-10">Overestimating</tspan><tspan x="0" dy="8.4">knowledge and abilities</tspan><tspan x="0" dy="8.4">of students because I'm</tspan><tspan x="0" dy="8.4">not their teacher</tspan></text></g>
<g id="p1-22"><rect class="pc" x="1014.8" y="1286" width="32" height="89" rx="4"/><text class="pt" transform="translate(1030.8,1330.5) rotate(-90)"><tspan x="0" dy="-1.6">Reminding myself that</tspan><tspan x="0" dy="8.4">I'm an artist</tspan></text></g>
<g id="p1-23"><rect class="pc" x="1058.2" y="1286" width="32" height="89" rx="4"/><text class="pt" transform="translate(1074.2,1330.5) rotate(-90)"><tspan x="0" dy="-1.6">Expressing negative</tspan><tspan x="0" dy="8.4">self-talk about teaching</tspan></text></g>

<g id="p2-0"><rect class="pc" x="60" y="1381.5" width="32" height="89" rx="4"/><text class="pt" transform="translate(76,1426) rotate(-90)"><tspan x="0" dy="-10">Remarking need for</tspan><tspan x="0" dy="8.4">balance in teaching</tspan><tspan x="0" dy="8.4">(structured vs open-</tspan><tspan x="0" dy="8.4">ended vs free for all)</tspan></text></g>
<g id="p2-1"><rect class="pc" x="103.4" y="1381.5" width="32" height="89" rx="4"/><text class="pt" transform="translate(119.4,1426) rotate(-90)"><tspan x="0" dy="-1.6">Expressing positive</tspan><tspan x="0" dy="8.4">feelings about teaching</tspan></text></g>
<g id="p2-2"><rect class="pc" x="146.8" y="1381.5" width="32" height="89" rx="4"/><text class="pt" transform="translate(162.8,1426) rotate(-90)"><tspan x="0" dy="-5.8">Remarking need for</tspan><tspan x="0" dy="8.4">balance in teaching</tspan><tspan x="0" dy="8.4">(curriculum vs art)</tspan></text></g>
<g id="p2-3"><rect class="pc" x="190.2" y="1381.5" width="32" height="89" rx="4"/><text class="pt" transform="translate(206.2,1426) rotate(-90)"><tspan x="0" dy="-1.6">Feeling intimidated to</tspan><tspan x="0" dy="8.4">share knowledge</tspan></text></g>
<g id="p2-4"><rect class="pc" x="233.6" y="1381.5" width="32" height="89" rx="4"/><text class="pt" transform="translate(249.6,1426) rotate(-90)"><tspan x="0" dy="2.6">Fearing doing it wrong</tspan></text></g>
<g id="p2-5"><rect class="pc" x="277" y="1381.5" width="32" height="89" rx="4"/><text class="pt" transform="translate(293,1426) rotate(-90)"><tspan x="0" dy="-1.6">Affirming I can't f*ck</tspan><tspan x="0" dy="8.4">them up</tspan></text></g>
<g id="p2-6"><rect class="pc" x="320.4" y="1381.5" width="32" height="89" rx="4"/><text class="pt" transform="translate(336.4,1426) rotate(-90)"><tspan x="0" dy="-1.6">Wanting them to learn</tspan><tspan x="0" dy="8.4">about painting</tspan></text></g>
<g id="p2-7"><rect class="pc" x="363.8" y="1381.5" width="32" height="89" rx="4"/><text class="pt" transform="translate(379.8,1426) rotate(-90)"><tspan x="0" dy="-5.8">Dismissing perceived</tspan><tspan x="0" dy="8.4">obstacles / Moving</tspan><tspan x="0" dy="8.4">forward</tspan></text></g>
<g id="p2-8"><rect class="pc" x="407.2" y="1381.5" width="32" height="89" rx="4"/><text class="pt" transform="translate(423.2,1426) rotate(-90)"><tspan x="0" dy="-5.8">Noting time constraints</tspan><tspan x="0" dy="8.4">for absent student to</tspan><tspan x="0" dy="8.4">catch up</tspan></text></g>
<g id="p2-9"><rect class="pc" x="450.6" y="1381.5" width="32" height="89" rx="4"/><text class="pt" transform="translate(466.6,1426) rotate(-90)"><tspan x="0" dy="-1.6">Turning to experienced</tspan><tspan x="0" dy="8.4">teacher for guidance</tspan></text></g>
<g id="p2-10"><rect class="pc" x="494" y="1381.5" width="32" height="89" rx="4"/><text class="pt" transform="translate(510,1426) rotate(-90)"><tspan x="0" dy="-5.8">Nurturing empathy</tspan><tspan x="0" dy="8.4">(towards themselves</tspan><tspan x="0" dy="8.4">&amp;amp; others)</tspan></text></g>
<g id="p2-11"><rect class="pc" x="537.4" y="1381.5" width="32" height="89" rx="4"/><text class="pt" transform="translate(553.4,1426) rotate(-90)"><tspan x="0" dy="-5.8">Emphasizing desire for</tspan><tspan x="0" dy="8.4">students to use</tspan><tspan x="0" dy="8.4">imagination</tspan></text></g>
<g id="p2-12"><rect class="pc" x="580.8" y="1381.5" width="32" height="89" rx="4"/><text class="pt" transform="translate(596.8,1426) rotate(-90)"><tspan x="0" dy="-1.6">Listing requirements for</tspan><tspan x="0" dy="8.4">proper closure</tspan></text></g>
<g id="p2-13"><rect class="pc" x="624.2" y="1381.5" width="32" height="89" rx="4"/><text class="pt" transform="translate(640.2,1426) rotate(-90)"><tspan x="0" dy="-1.6">Gaining experience by</tspan><tspan x="0" dy="8.4">doing</tspan></text></g>
<g id="p2-14"><rect class="pc" x="667.6" y="1381.5" width="32" height="89" rx="4"/><text class="pt" transform="translate(683.6,1426) rotate(-90)"><tspan x="0" dy="2.6">Having fun (me)</tspan></text></g>
<g id="p2-15"><rect class="pc" x="711" y="1381.5" width="32" height="89" rx="4"/><text class="pt" transform="translate(727,1426) rotate(-90)"><tspan x="0" dy="-1.6">Sparking creativity /</tspan><tspan x="0" dy="8.4">Inspiration</tspan></text></g>
<g id="p2-16"><rect class="pc" x="754.4" y="1381.5" width="32" height="89" rx="4"/><text class="pt" transform="translate(770.4,1426) rotate(-90)"><tspan x="0" dy="-1.6">Thinking about how</tspan><tspan x="0" dy="8.4">students learn</tspan></text></g>
<g id="p2-17"><rect class="pc" x="797.8" y="1381.5" width="32" height="89" rx="4"/><text class="pt" transform="translate(813.8,1426) rotate(-90)"><tspan x="0" dy="-1.6">Planning content of</tspan><tspan x="0" dy="8.4">workshops</tspan></text></g>
<g id="p2-18"><rect class="pc" x="841.2" y="1381.5" width="32" height="89" rx="4"/><text class="pt" transform="translate(857.2,1426) rotate(-90)"><tspan x="0" dy="-5.8">Paying attention to my</tspan><tspan x="0" dy="8.4">actions when working</tspan><tspan x="0" dy="8.4">in my studio</tspan></text></g>
<g id="p2-19"><rect class="pc" x="884.6" y="1381.5" width="32" height="89" rx="4"/><text class="pt" transform="translate(900.6,1426) rotate(-90)"><tspan x="0" dy="-1.6">Thinking about how I</tspan><tspan x="0" dy="8.4">learned to paint</tspan></text></g>
<g id="p2-20"><rect class="pc" x="928" y="1381.5" width="32" height="89" rx="4"/><text class="pt" transform="translate(944,1426) rotate(-90)"><tspan x="0" dy="-1.6">Students trying</tspan><tspan x="0" dy="8.4">something new</tspan></text></g>
<g id="p2-21"><rect class="pc" x="971.4" y="1381.5" width="32" height="89" rx="4"/><text class="pt" transform="translate(987.4,1426) rotate(-90)"><tspan x="0" dy="-1.6">Focusing too much on</tspan><tspan x="0" dy="8.4">acting like a teacher</tspan></text></g>
<g id="p2-22"><rect class="pc" x="1014.8" y="1381.5" width="32" height="89" rx="4"/><text class="pt" transform="translate(1030.8,1426) rotate(-90)"><tspan x="0" dy="-1.6">Planning adjustments</tspan><tspan x="0" dy="8.4">to teaching (physical)</tspan></text></g>
<g id="p2-23"><rect class="pc" x="1058.2" y="1381.5" width="32" height="89" rx="4"/><text class="pt" transform="translate(1074.2,1426) rotate(-90)"><tspan x="0" dy="-1.6">Admiring "good</tspan><tspan x="0" dy="8.4">teacher" attributes</tspan></text></g>

<g id="p3-0"><rect class="pc" x="64" y="1477" width="34" height="89" rx="4"/><text class="pt" transform="translate(81,1521.5) rotate(-90)"><tspan x="0" dy="-1.6">Conducting a</tspan><tspan x="0" dy="8.4">successful lesson</tspan></text></g>
<g id="p3-1"><rect class="pc" x="111" y="1477" width="34" height="89" rx="4"/><text class="pt" transform="translate(128,1521.5) rotate(-90)"><tspan x="0" dy="-5.8">Emphasizing limits of</tspan><tspan x="0" dy="8.4">gouache compared to</tspan><tspan x="0" dy="8.4">oils</tspan></text></g>
<g id="p3-2"><rect class="pc" x="158" y="1477" width="34" height="89" rx="4"/><text class="pt" transform="translate(175,1521.5) rotate(-90)"><tspan x="0" dy="-1.6">Being afraid of killing</tspan><tspan x="0" dy="8.4">their creativity</tspan></text></g>
<g id="p3-3"><rect class="pc" x="205" y="1477" width="34" height="89" rx="4"/><text class="pt" transform="translate(222,1521.5) rotate(-90)"><tspan x="0" dy="-1.6">Learning from the</tspan><tspan x="0" dy="8.4">students</tspan></text></g>
<g id="p3-4"><rect class="pc" x="252" y="1477" width="34" height="89" rx="4"/><text class="pt" transform="translate(269,1521.5) rotate(-90)"><tspan x="0" dy="-5.8">Wanting students to</tspan><tspan x="0" dy="8.4">have pride in</tspan><tspan x="0" dy="8.4">themselves</tspan></text></g>
<g id="p3-5"><rect class="pc" x="299" y="1477" width="34" height="89" rx="4"/><text class="pt" transform="translate(316,1521.5) rotate(-90)"><tspan x="0" dy="-5.8">Wanting students to</tspan><tspan x="0" dy="8.4">take creative pride in</tspan><tspan x="0" dy="8.4">their work</tspan></text></g>
<g id="p3-6"><rect class="pc" x="346" y="1477" width="34" height="89" rx="4"/><text class="pt" transform="translate(363,1521.5) rotate(-90)"><tspan x="0" dy="-5.8">Satisfying parents,</tspan><tspan x="0" dy="8.4">teacher, MEES</tspan><tspan x="0" dy="8.4">requirements</tspan></text></g>
<g id="p3-7"><rect class="pc" x="393" y="1477" width="34" height="89" rx="4"/><text class="pt" transform="translate(410,1521.5) rotate(-90)"><tspan x="0" dy="-5.8">Fearing students not</tspan><tspan x="0" dy="8.4">getting anything out of</tspan><tspan x="0" dy="8.4">the lesson</tspan></text></g>
<g id="p3-8"><rect class="pc" x="440" y="1477" width="34" height="89" rx="4"/><text class="pt" transform="translate(457,1521.5) rotate(-90)"><tspan x="0" dy="-5.8">Basing art lesson on</tspan><tspan x="0" dy="8.4">unit of inquiry being</tspan><tspan x="0" dy="8.4">addressed in the class</tspan></text></g>
<g id="p3-9"><rect class="pc" x="487" y="1477" width="34" height="89" rx="4"/><text class="pt" transform="translate(504,1521.5) rotate(-90)"><tspan x="0" dy="-1.6">Hoping students</tspan><tspan x="0" dy="8.4">surpass themselves</tspan></text></g>
<g id="p3-10"><rect class="pc" x="534" y="1477" width="34" height="89" rx="4"/><text class="pt" transform="translate(551,1521.5) rotate(-90)"><tspan x="0" dy="-5.8">Stating insecurity</tspan><tspan x="0" dy="8.4">(lack of confidence /</tspan><tspan x="0" dy="8.4">lack of experience)</tspan></text></g>
<g id="p3-11"><rect class="pc" x="581" y="1477" width="34" height="89" rx="4"/><text class="pt" transform="translate(598,1521.5) rotate(-90)"><tspan x="0" dy="-1.6">Insisting on importance</tspan><tspan x="0" dy="8.4">of final exhibition</tspan></text></g>
<g id="p3-12"><rect class="pc" x="628" y="1477" width="34" height="89" rx="4"/><text class="pt" transform="translate(645,1521.5) rotate(-90)"><tspan x="0" dy="-1.6">Realizing I don't know</tspan><tspan x="0" dy="8.4">how I paint</tspan></text></g>
<g id="p3-13"><rect class="pc" x="675" y="1477" width="34" height="89" rx="4"/><text class="pt" transform="translate(692,1521.5) rotate(-90)"><tspan x="0" dy="-5.8">Affirming expertise,</tspan><tspan x="0" dy="8.4">knowledge and comfort</tspan><tspan x="0" dy="8.4">with oils</tspan></text></g>
<g id="p3-14"><rect class="pc" x="722" y="1477" width="34" height="89" rx="4"/><text class="pt" transform="translate(739,1521.5) rotate(-90)"><tspan x="0" dy="-5.8">Appreciating the</tspan><tspan x="0" dy="8.4">freedom I have in my</tspan><tspan x="0" dy="8.4">studio</tspan></text></g>
<g id="p3-15"><rect class="pc" x="769" y="1477" width="34" height="89" rx="4"/><text class="pt" transform="translate(786,1521.5) rotate(-90)"><tspan x="0" dy="-1.6">Working with my own</tspan><tspan x="0" dy="8.4">agenda</tspan></text></g>
<g id="p3-16"><rect class="pc" x="816" y="1477" width="34" height="89" rx="4"/><text class="pt" transform="translate(833,1521.5) rotate(-90)"><tspan x="0" dy="2.6">Feeling like a teacher</tspan></text></g>
<g id="p3-17"><rect class="pc" x="863" y="1477" width="34" height="89" rx="4"/><text class="pt" transform="translate(880,1521.5) rotate(-90)"><tspan x="0" dy="-1.6">Noticing importance of</tspan><tspan x="0" dy="8.4">studio organisation</tspan></text></g>
<g id="p3-18"><rect class="pc" x="910" y="1477" width="34" height="89" rx="4"/><text class="pt" transform="translate(927,1521.5) rotate(-90)"><tspan x="0" dy="-5.8">Emphasizing</tspan><tspan x="0" dy="8.4">importance of</tspan><tspan x="0" dy="8.4">materials and technique</tspan></text></g>
<g id="p3-19"><rect class="pc" x="957" y="1477" width="34" height="89" rx="4"/><text class="pt" transform="translate(974,1521.5) rotate(-90)"><tspan x="0" dy="-1.6">Planning adjustments</tspan><tspan x="0" dy="8.4">to teaching (content)</tspan></text></g>
<g id="p3-20"><rect class="pc" x="1004" y="1477" width="34" height="89" rx="4"/><text class="pt" transform="translate(1021,1521.5) rotate(-90)"><tspan x="0" dy="-5.8">Locating teaching gaps</tspan><tspan x="0" dy="8.4">between plan and</tspan><tspan x="0" dy="8.4">execution</tspan></text></g>
<g id="p3-21"><rect class="pc" x="1051" y="1477" width="34" height="89" rx="4"/><text class="pt" transform="translate(1068,1521.5) rotate(-90)"><tspan x="0" dy="-1.6">Declaring I didn't teach</tspan><tspan x="0" dy="8.4">them about painting</tspan></text></g>

<g id="p4-0"><rect class="pc" x="64" y="1572.5" width="34" height="95" rx="4"/><text class="pt" transform="translate(81,1617) rotate(-90)"><tspan x="0" dy="2.6">Always learning</tspan></text></g>
<g id="p4-1"><rect class="pc" x="111" y="1572.5" width="34" height="95" rx="4"/><text class="pt" transform="translate(128,1617) rotate(-90)"><tspan x="0" dy="2.6">Shaping their identity</tspan></text></g>
<g id="p4-2"><rect class="pc" x="158" y="1572.5" width="34" height="95" rx="4"/><text class="pt" transform="translate(175,1617) rotate(-90)"><tspan x="0" dy="-1.6">Creating a sense of</tspan><tspan x="0" dy="8.4">community</tspan></text></g>
<g id="p4-3"><rect class="pc" x="205" y="1572.5" width="34" height="95" rx="4"/><text class="pt" transform="translate(222,1617) rotate(-90)"><tspan x="0" dy="-1.6">Planning content of</tspan><tspan x="0" dy="8.4">workshops</tspan></text></g>
<g id="p4-4"><rect class="pc" x="252" y="1572.5" width="34" height="95" rx="4"/><text class="pt" transform="translate(269,1617) rotate(-90)"><tspan x="0" dy="-1.6">Noting need for a more</tspan><tspan x="0" dy="8.4">detailed demo next time</tspan></text></g>
<g id="p4-5"><rect class="pc" x="299" y="1572.5" width="34" height="95" rx="4"/><text class="pt" transform="translate(316,1617) rotate(-90)"><tspan x="0" dy="-1.6">Feeling nervous about</tspan><tspan x="0" dy="8.4">teaching</tspan></text></g>
<g id="p4-6"><rect class="pc" x="346" y="1572.5" width="34" height="95" rx="4"/><text class="pt" transform="translate(363,1617) rotate(-90)"><tspan x="0" dy="-5.8">Learning / trying</tspan><tspan x="0" dy="8.4">something new</tspan><tspan x="0" dy="8.4">(students)</tspan></text></g>
<g id="p4-7"><rect class="pc" x="393" y="1572.5" width="34" height="95" rx="4"/><text class="pt" transform="translate(410,1617) rotate(-90)"><tspan x="0" dy="-5.8">Noting potential class</tspan><tspan x="0" dy="8.4">management solutions</tspan><tspan x="0" dy="8.4">to being alone</tspan></text></g>
<g id="p4-8"><rect class="pc" x="440" y="1572.5" width="34" height="95" rx="4"/><text class="pt" transform="translate(457,1617) rotate(-90)"><tspan x="0" dy="-5.8">Feeling excitement /</tspan><tspan x="0" dy="8.4">Enthusiasm about</tspan><tspan x="0" dy="8.4">teaching</tspan></text></g>
<g id="p4-9"><rect class="pc" x="487" y="1572.5" width="34" height="95" rx="4"/><text class="pt" transform="translate(504,1617) rotate(-90)"><tspan x="0" dy="-1.6">Observing they retained</tspan><tspan x="0" dy="8.4">the information taught</tspan></text></g>
<g id="p4-10"><rect class="pc" x="534" y="1572.5" width="34" height="95" rx="4"/><text class="pt" transform="translate(551,1617) rotate(-90)"><tspan x="0" dy="2.6">Engaging students</tspan></text></g>
<g id="p4-11"><rect class="pc" x="581" y="1572.5" width="34" height="95" rx="4"/><text class="pt" transform="translate(598,1617) rotate(-90)"><tspan x="0" dy="-1.6">Needing better planning</tspan><tspan x="0" dy="8.4">strategies</tspan></text></g>
<g id="p4-12"><rect class="pc" x="628" y="1572.5" width="34" height="95" rx="4"/><text class="pt" transform="translate(645,1617) rotate(-90)"><tspan x="0" dy="-1.6">Applying new</tspan><tspan x="0" dy="8.4">knowledge</tspan></text></g>
<g id="p4-13"><rect class="pc" x="675" y="1572.5" width="34" height="95" rx="4"/><text class="pt" transform="translate(692,1617) rotate(-90)"><tspan x="0" dy="-5.8">Noting time constraints</tspan><tspan x="0" dy="8.4">that prevented</tspan><tspan x="0" dy="8.4">exhibition</tspan></text></g>
<g id="p4-14"><rect class="pc" x="722" y="1572.5" width="34" height="95" rx="4"/><text class="pt" transform="translate(739,1617) rotate(-90)"><tspan x="0" dy="-1.6">Feeling nervous about</tspan><tspan x="0" dy="8.4">teaching</tspan></text></g>
<g id="p4-15"><rect class="pc" x="769" y="1572.5" width="34" height="95" rx="4"/><text class="pt" transform="translate(786,1617) rotate(-90)"><tspan x="0" dy="-5.8">Identifying my difficulty</tspan><tspan x="0" dy="8.4">with closing activities in</tspan><tspan x="0" dy="8.4">a timely manner</tspan></text></g>
<g id="p4-16"><rect class="pc" x="816" y="1572.5" width="34" height="95" rx="4"/><text class="pt" transform="translate(833,1617) rotate(-90)"><tspan x="0" dy="-5.8">Receiving positive</tspan><tspan x="0" dy="8.4">feedback about my</tspan><tspan x="0" dy="8.4">teaching</tspan></text></g>
<g id="p4-17"><rect class="pc" x="863" y="1572.5" width="34" height="95" rx="4"/><text class="pt" transform="translate(880,1617) rotate(-90)"><tspan x="0" dy="-1.6">Giving them the "artist"</tspan><tspan x="0" dy="8.4">experience</tspan></text></g>
<g id="p4-18"><rect class="pc" x="910" y="1572.5" width="34" height="95" rx="4"/><text class="pt" transform="translate(927,1617) rotate(-90)"><tspan x="0" dy="-1.6">Paying attention to</tspan><tspan x="0" dy="8.4">what I'm doing</tspan></text></g>
<g id="p4-19"><rect class="pc" x="957" y="1572.5" width="34" height="95" rx="4"/><text class="pt" transform="translate(974,1617) rotate(-90)"><tspan x="0" dy="-1.6">Discovering and Using</tspan><tspan x="0" dy="8.4">pedagogical resources</tspan></text></g>
<g id="p4-20"><rect class="pc" x="1004" y="1572.5" width="34" height="95" rx="4"/><text class="pt" transform="translate(1021,1617) rotate(-90)"><tspan x="0" dy="-10">Overestimating</tspan><tspan x="0" dy="8.4">knowledge and abilities</tspan><tspan x="0" dy="8.4">of students because I'm</tspan><tspan x="0" dy="8.4">not their teacher</tspan></text></g>
<g id="p4-21"><rect class="pc" x="1051" y="1572.5" width="34" height="95" rx="4"/><text class="pt" transform="translate(1068,1617) rotate(-90)"><tspan x="0" dy="-1.6">Noting that physical</tspan><tspan x="0" dy="8.4">adjustments didn't help</tspan></text></g>
</g>
</svg>
